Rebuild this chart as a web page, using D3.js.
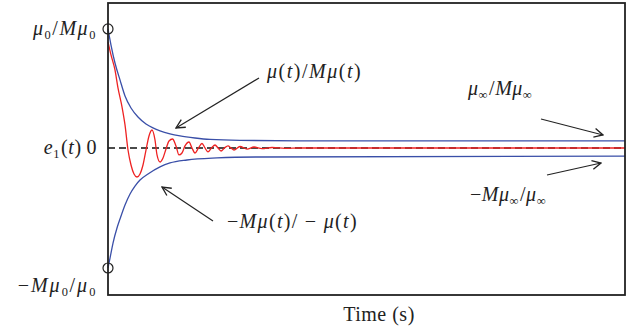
<!DOCTYPE html>
<html>
<head>
<meta charset="utf-8">
<style>
  body { margin: 0; background: #fff; }
  text { font-family: "Liberation Serif", "DejaVu Serif", serif; fill: #222; }
</style>
<script src="https://d3js.org/d3.v7.min.js"></script>
</head>
<body>
<div id="chart"></div>
<script>
// upper bound mu(t)/M mu(t)
var upperT = [0, 0.058, 0.135, 0.232, 0.329, 0.445, 0.58, 0.735, 0.87, 1.006, 1.199, 1.393, 1.683, 1.973, 2.553, 3.714, 10];
var upperV = [0.992, 0.858, 0.708, 0.567, 0.433, 0.333, 0.258, 0.2, 0.167, 0.142, 0.117, 0.1, 0.083, 0.071, 0.063, 0.06, 0.06];

// lower bound -M mu(t)/-mu(t)
var lowerT = [0, 0.039, 0.097, 0.174, 0.232, 0.329, 0.426, 0.522, 0.619, 0.774, 1.006, 1.199, 1.528, 2.108, 2.94, 10];
var lowerV = [-1.0, -0.917, -0.792, -0.667, -0.592, -0.475, -0.383, -0.317, -0.267, -0.217, -0.158, -0.125, -0.1, -0.083, -0.075, -0.068];

// error e1(t)
var errT = [0, 0.058, 0.135, 0.193, 0.271, 0.329, 0.387, 0.445, 0.503, 0.561, 0.619, 0.677, 0.735, 0.793, 0.851, 0.909, 0.948, 1.006, 1.064, 1.122, 1.18, 1.248, 1.315, 1.373, 1.431, 1.489, 1.567, 1.625, 1.683, 1.75, 1.818, 1.876, 1.934, 2.002, 2.07, 2.128, 2.186, 2.253, 2.321, 2.379, 2.437, 2.553, 2.689, 2.824, 2.979, 3.172, 3.424, 3.714, 10];
var errV = [0.883, 0.775, 0.65, 0.5, 0.342, 0.192, -0.017, -0.142, -0.217, -0.242, -0.217, -0.142, -0.017, 0.1, 0.15, 0.067, -0.058, -0.117, -0.083, -0.008, 0.058, 0.075, 0.017, -0.058, -0.042, 0.017, 0.05, 0, -0.042, 0, 0.0375, 0, -0.033, 0, 0.025, 0, -0.025, 0, 0.017, 0, -0.017, 0.0125, -0.009, 0.008, -0.005, 0.004, -0.003, 0, 0];

var width = 633, height = 332;
var margin = { top: 3, right: 8, bottom: 37, left: 108 };

var svg = d3.select("#chart").append("svg")
    .attr("width", width)
    .attr("height", height);

var x = d3.scaleLinear().domain([0, 10]).range([margin.left, width - margin.right]);
var y = d3.scaleLinear().domain([-1.225, 1.208]).range([height - margin.bottom, margin.top]);

var zip = function (ts, vs) { return ts.map(function (t, i) { return [t, vs[i]]; }); };

var line = d3.line()
    .x(function (d) { return x(d[0]); })
    .y(function (d) { return y(d[1]); })
    .curve(d3.curveMonotoneX);

// zero line
svg.append("line")
    .attr("x1", x(0)).attr("x2", x(10))
    .attr("y1", y(0)).attr("y2", y(0))
    .attr("stroke", "#111")
    .attr("stroke-width", 1.3)
    .attr("stroke-dasharray", "7,4");

svg.append("path").datum(zip(upperT, upperV))
    .attr("d", line).attr("fill", "none")
    .attr("stroke", "#3a4fa8").attr("stroke-width", 1.3);

svg.append("path").datum(zip(lowerT, lowerV))
    .attr("d", line).attr("fill", "none")
    .attr("stroke", "#3a4fa8").attr("stroke-width", 1.3);

svg.append("path").datum(zip(errT, errV))
    .attr("d", line).attr("fill", "none")
    .attr("stroke", "#ee2222").attr("stroke-width", 1.3);

// frame
svg.append("rect")
    .attr("x", x(0)).attr("y", y.range()[1])
    .attr("width", x(10) - x(0))
    .attr("height", y.range()[0] - y.range()[1])
    .attr("fill", "none")
    .attr("stroke", "#222")
    .attr("stroke-width", 1.8);

// start circles
svg.selectAll("circle.start")
    .data([upperV[0], lowerV[0]])
    .enter().append("circle")
    .attr("cx", x(0))
    .attr("cy", function (d) { return y(d); })
    .attr("r", 5)
    .attr("fill", "none")
    .attr("stroke", "#222")
    .attr("stroke-width", 1.2);

// arrow marker
svg.append("defs").append("marker")
    .attr("id", "arr")
    .attr("viewBox", "0 0 10 10")
    .attr("refX", 9).attr("refY", 5)
    .attr("markerWidth", 11).attr("markerHeight", 11)
    .attr("markerUnits", "userSpaceOnUse")
    .attr("orient", "auto")
    .append("path")
    .attr("d", "M1,1 L9,5 L1,9")
    .attr("fill", "none")
    .attr("stroke", "#222")
    .attr("stroke-width", 1.2);

// math label helper: parts = [text, style] where style: "i" italic, "r" roman, "s" subscript
function mathLabel(px, py, anchor, parts, size, ls) {
    var t = svg.append("text")
        .attr("x", px).attr("y", py)
        .attr("text-anchor", anchor)
        .style("font-size", size + "px");
    parts.forEach(function (p) {
        var s = t.append("tspan").text(p[0]);
        if (p[1] === "i") s.style("font-style", "italic");
        if (p[1] === "s") {
            s.style("font-size", (size * 0.62) + "px").attr("dy", 4);
            t.append("tspan").text("\u200a").attr("dy", -4);
        } else {
            s.style("letter-spacing", ls + "px");
        }
    });
    return t;
}

var fs = 20;
mathLabel(97, y(upperV[0]) + 6, "end", [["μ", "i"], ["0", "s"], ["/", "r"], ["M", "i"], ["μ", "i"], ["0", "s"]], fs, 1.5);
mathLabel(97, y(0) + 6, "end", [["e", "i"], ["1", "s"], ["(", "r"], ["t", "i"], [")\u2009", "r"], ["0", "r"]], fs, 0.6);
mathLabel(97, y(lowerV[0]) + 24, "end", [["−", "r"], ["M", "i"], ["μ", "i"], ["0", "s"], ["/", "r"], ["μ", "i"], ["0", "s"]], fs, 2);

mathLabel(267, 78, "start", [["μ", "i"], ["(", "r"], ["t", "i"], [")/", "r"], ["M", "i"], ["μ", "i"], ["(", "r"], ["t", "i"], [")", "r"]], fs, 1.5);
mathLabel(227, 228, "start", [["−", "r"], ["M", "i"], ["μ", "i"], ["(", "r"], ["t", "i"], [")/ − ", "r"], ["μ", "i"], ["(", "r"], ["t", "i"], [")", "r"]], fs, 1.3);
mathLabel(468, 95, "start", [["μ", "i"], ["∞", "s"], ["/", "r"], ["M", "i"], ["μ", "i"], ["∞", "s"]], fs, 0.5);
mathLabel(470, 201, "start", [["−", "r"], ["M", "i"], ["μ", "i"], ["∞", "s"], ["/", "r"], ["μ", "i"], ["∞", "s"]], fs, 0.5);

// arrows
var arrows = [
    [259, 78, 176, 128],
    [213, 221, 162, 187],
    [541, 119, 603, 135],
    [547, 175, 601, 163]
];
svg.selectAll("line.arrow")
    .data(arrows)
    .enter().append("line")
    .attr("x1", function (d) { return d[0]; })
    .attr("y1", function (d) { return d[1]; })
    .attr("x2", function (d) { return d[2]; })
    .attr("y2", function (d) { return d[3]; })
    .attr("stroke", "#222")
    .attr("stroke-width", 1.2)
    .attr("marker-end", "url(#arr)");

// x axis title
svg.append("text")
    .attr("x", 379)
    .attr("y", 321)
    .attr("text-anchor", "middle")
    .style("font-size", "20px")
    .style("letter-spacing", "0.5px")
    .text("Time (s)");
</script>
</body>
</html>
